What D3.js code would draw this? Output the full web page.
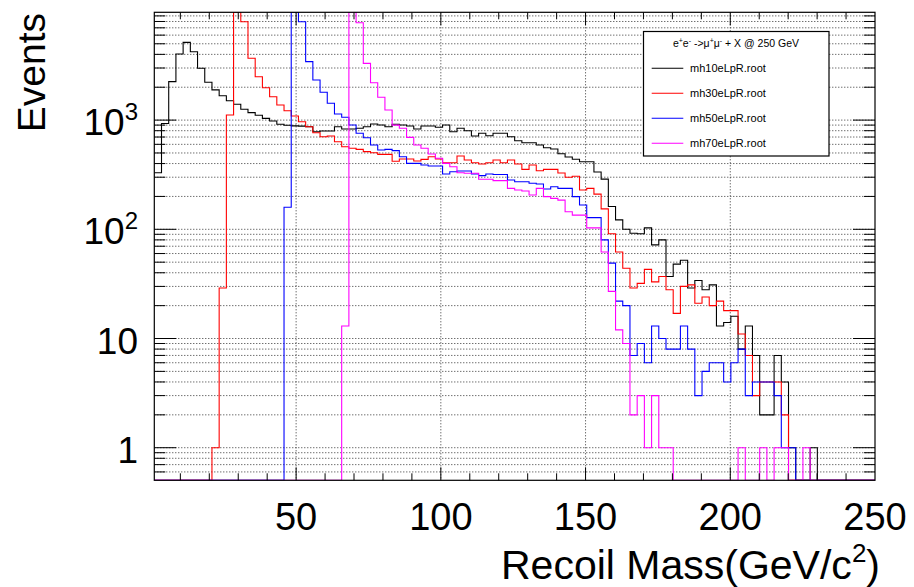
<!DOCTYPE html>
<html>
<head>
<meta charset="utf-8">
<script src="https://cdn.jsdelivr.net/npm/d3@7"></script>
<style>
  body { margin: 0; background: #fff; }
  text { font-family: "Liberation Sans", Arial, sans-serif; }
</style>
</head>
<body>
<svg id="chart" width="914" height="587"></svg>
<script>
// histogram definition: 100 bins between 1 and 250 GeV
const xMin = 1, xMax = 250, nBins = 100;

// bin contents (0 = empty bin, peaks above the frame are clipped)
const mh10 = [330, 930, 2250, 4030, 5150, 4230, 2980, 2220, 1890, 1670,
  1505, 1397, 1257, 1170, 1107, 1038, 981, 916, 896, 885,
  880, 870, 783, 795, 795, 870, 829, 829, 841, 870,
  921, 901, 870, 915, 901, 883, 829, 883, 883, 859,
  901, 783, 841, 800, 715, 757, 720, 757, 757, 705,
  648, 621, 621, 592, 559, 544, 492, 460, 438, 416,
  416, 335, 288, 162, 122, 100, 92, 91, 103, 72,
  80, 37, 48, 52, 29, 34, 28, 31, 13, 14,
  16, 8, 13, 7, 2, 2, 7, 4, 1, 0,
  0, 1, 0, 0, 0, 0, 0, 0, 0, 0];
const mh30 = [0, 0, 0, 0, 0, 0, 0, 0, 1, 29,
  1113, 14000, 7960, 3680, 2495, 1980, 1637, 1374, 1219, 1089,
  966, 870, 767, 705, 715, 634, 570, 552, 540, 514,
  503, 486, 486, 420, 440, 440, 422, 437, 462, 440,
  407, 407, 469, 431, 407, 396, 407, 431, 407, 431,
  396, 354, 388, 344, 354, 354, 328, 300, 306, 229,
  237, 210, 154, 91, 62, 44, 29, 32, 43, 33,
  37, 28, 17, 30, 31, 21, 24, 20, 22, 18,
  18, 11, 7, 3, 4, 4, 4, 2, 0, 0,
  0, 0, 0, 0, 0, 0, 0, 0, 0, 0];
const mh50 = [0, 0, 0, 0, 0, 0, 0, 0, 0, 0,
  0, 0, 0, 0, 0, 0, 0, 0, 159, 14000,
  7960, 3430, 2330, 1800, 1426, 1137, 1062, 901, 757, 690,
  592, 532, 540, 525, 462, 402, 402, 388, 380, 380,
  321, 337, 342, 342, 321, 310, 321, 318, 318, 283,
  273, 273, 264, 260, 234, 245, 237, 237, 199, 167,
  128, 128, 80, 49, 22, 20, 7, 9, 6, 13,
  10, 8, 8, 13, 8, 3, 5, 6, 6, 4,
  6, 8, 3, 4, 4, 4, 3, 1, 1, 0,
  0, 0, 0, 0, 0, 0, 0, 0, 0, 0];
const mh70 = [0, 0, 0, 0, 0, 0, 0, 0, 0, 0,
  0, 0, 0, 0, 0, 0, 0, 0, 0, 0,
  0, 0, 0, 0, 0, 0, 13, 14000, 7800, 3310,
  2200, 1618, 1237, 900, 841, 695, 592, 552, 489, 447,
  402, 374, 330, 326, 326, 287, 287, 279, 279, 237,
  229, 224, 206, 237, 199, 192, 185, 145, 135, 135,
  103, 103, 62, 27, 12, 9, 2, 3, 1, 3,
  1, 1, 0, 0, 0, 0, 0, 0, 0, 0,
  0, 1, 0, 0, 1, 0, 1, 1, 0, 0,
  1, 0, 0, 0, 0, 0, 0, 0, 0, 0];

const seriesNames = ["mh10eLpR.root", "mh30eLpR.root", "mh50eLpR.root", "mh70eLpR.root"];
const seriesColors = ["#000000", "#ff0000", "#0000ff", "#ff00ff"];
const xMajorTicks = [50, 100, 150, 200, 250];
const yTickLabels = [
  {v: 1, base: "1", sup: ""},
  {v: 10, base: "10", sup: ""},
  {v: 100, base: "10", sup: "2"},
  {v: 1000, base: "10", sup: "3"}
];

const frame = {left: 154.3, right: 875, top: 12.3, bottom: 480.3};
const svg = d3.select('#chart');

var x = d3.scaleLinear().domain([xMin, xMax]).range([frame.left, frame.right]);
var y = d3.scaleLog().domain([0.503, 9710]).range([frame.bottom, frame.top]);

const edges = d3.range(nBins + 1).map(i => xMin + i * (xMax - xMin) / nBins);

// ---- grid (dotted, all y ticks, major x ticks)
const yTicks = y.ticks();
const isMajor = v => Math.abs(Math.log10(v) - Math.round(Math.log10(v))) < 1e-6;

svg.append('g').attr('id', 'grid')
  .selectAll('line.gy')
  .data(yTicks)
  .enter()
  .append('line')
  .attr('x1', frame.left).attr('x2', frame.right)
  .attr('y1', d => y(d)).attr('y2', d => y(d))
  .attr('stroke', '#333').attr('stroke-width', 1)
  .attr('stroke-dasharray', '1,2');

d3.select('#grid').selectAll('line.gx')
  .data(xMajorTicks.filter(d => d < xMax))
  .enter()
  .append('line')
  .attr('x1', d => x(d)).attr('x2', d => x(d))
  .attr('y1', frame.top).attr('y2', frame.bottom)
  .attr('stroke', '#333').attr('stroke-width', 1)
  .attr('stroke-dasharray', '1,2');

// ---- histograms
svg.append('clipPath').attr('id', 'clipframe')
  .append('rect')
  .attr('x', frame.left).attr('y', frame.top)
  .attr('width', frame.right - frame.left).attr('height', frame.bottom - frame.top);

const stepLine = d3.line()
  .x(d => x(d[0]))
  .y(d => y(Math.min(Math.max(d[1], 0.503), 9710)))
  .curve(d3.curveStepAfter);

[mh10, mh30, mh50, mh70].forEach(function(values, i) {
  var pts = values.map((v, k) => [edges[k], v]);
  pts.push([edges[nBins], values[nBins - 1]]);
  svg.append('path')
    .attr('clip-path', 'url(#clipframe)')
    .attr('d', stepLine(pts))
    .attr('fill', 'none')
    .attr('stroke', seriesColors[i])
    .attr('stroke-width', 1.1);
});

// ---- frame and ticks
svg.append('rect')
  .attr('x', frame.left).attr('y', frame.top)
  .attr('width', frame.right - frame.left).attr('height', frame.bottom - frame.top)
  .attr('fill', 'none').attr('stroke', '#000').attr('stroke-width', 1.2);

var ticks = svg.append('g').attr('stroke', '#000').attr('stroke-width', 1);
yTicks.forEach(function(v) {
  var len = isMajor(v) ? 22 : 11;
  ticks.append('line').attr('x1', frame.left).attr('x2', frame.left + len)
    .attr('y1', y(v)).attr('y2', y(v));
  ticks.append('line').attr('x1', frame.right).attr('x2', frame.right - len)
    .attr('y1', y(v)).attr('y2', y(v));
});
d3.range(10, 250, 10).forEach(function(v) {
  var len = (v % 50 == 0) ? 13 : 7;
  ticks.append('line').attr('x1', x(v)).attr('x2', x(v))
    .attr('y1', frame.bottom).attr('y2', frame.bottom - len);
  ticks.append('line').attr('x1', x(v)).attr('x2', x(v))
    .attr('y1', frame.top).attr('y2', frame.top + len);
});

// ---- tick labels
svg.append('g').selectAll('text')
  .data(xMajorTicks)
  .enter()
  .append('text')
  .attr('x', d => x(d))
  .attr('y', 530)
  .attr('text-anchor', 'middle')
  .attr('font-size', 38)
  .text(d => d);

var yl = svg.append('g').selectAll('text')
  .data(yTickLabels)
  .enter()
  .append('text')
  .attr('x', 138)
  .attr('y', d => y(d.v) + 15)
  .attr('text-anchor', 'end')
  .attr('font-size', 37);
yl.append('tspan').text(d => d.base);
yl.append('tspan')
  .attr('font-size', 24)
  .attr('dy', -15)
  .text(d => d.sup);

// ---- axis titles
svg.append('text')
  .attr('transform', 'translate(45,13) rotate(-90)')
  .attr('text-anchor', 'end')
  .attr('font-size', 39)
  .text('Events');

var xt = svg.append('text')
  .attr('x', 880).attr('y', 579)
  .attr('text-anchor', 'end')
  .attr('font-size', 41);
xt.append('tspan').text('Recoil Mass(GeV/c');
xt.append('tspan').attr('font-size', 26).attr('dy', -17).text('2');
xt.append('tspan').attr('dy', 17).text(')');

// ---- legend
var leg = svg.append('g').attr('id', 'legend');
leg.append('rect')
  .attr('x', 643.5).attr('y', 31.5).attr('width', 185.5).attr('height', 124.5)
  .attr('fill', '#fff').attr('stroke', '#000').attr('stroke-width', 1.2);

var hd = leg.append('text')
  .attr('x', 736).attr('y', 47)
  .attr('text-anchor', 'middle')
  .attr('font-size', 10.5);
hd.append('tspan').text('e');
hd.append('tspan').attr('font-size', 7).attr('dy', -4).text('+');
hd.append('tspan').attr('dy', 4).text('e');
hd.append('tspan').attr('font-size', 7).attr('dy', -4).text('-');
hd.append('tspan').attr('dy', 4).text(' ->μ');
hd.append('tspan').attr('font-size', 7).attr('dy', -4).text('+');
hd.append('tspan').attr('dy', 4).text('μ');
hd.append('tspan').attr('font-size', 7).attr('dy', -4).text('-');
hd.append('tspan').attr('dy', 4).text('  + X @ 250 GeV');

var entries = leg.selectAll('g.entry')
  .data(seriesNames)
  .enter()
  .append('g')
  .attr('transform', (d, i) => `translate(0, ${68.3 + 25 * i})`);
entries.append('line')
  .attr('x1', 651.7).attr('x2', 683.3)
  .attr('stroke', (d, i) => seriesColors[i])
  .attr('stroke-width', 1.1);
entries.append('text')
  .attr('x', 690).attr('y', 4)
  .attr('font-size', 11)
  .text(d => d);
</script>
</body>
</html>
